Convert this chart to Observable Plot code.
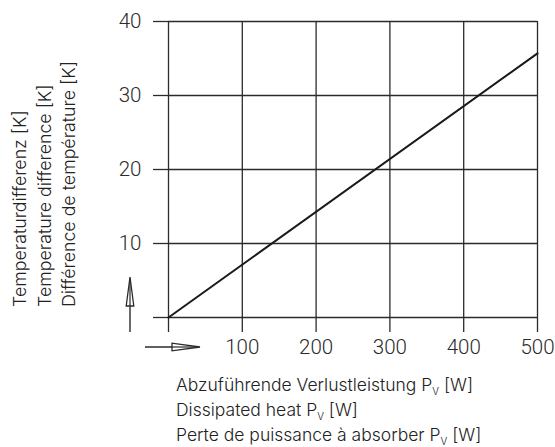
<!DOCTYPE html>
<html>
<head>
<meta charset="utf-8">
<script src="https://cdn.jsdelivr.net/npm/d3@7"></script>
<script src="https://cdn.jsdelivr.net/npm/@observablehq/plot@0.6"></script>
<style>
  html, body { margin: 0; padding: 0; background: #fff; }
</style>
</head>
<body>
<div id="chart"></div>
<script>
// ---- data ----
const powerW = [0, 500];          // Abzuführende Verlustleistung Pv [W]
const deltaK = [0, 35.7];         // Temperaturdifferenz [K]
const xTicks = [0, 100, 200, 300, 400, 500];
const yTicks = [0, 10, 20, 30, 40];
const xTitleLines = [
  ["Abzuführende Verlustleistung P", "V", " [W]"],
  ["Dissipated heat P", "V", " [W]"],
  ["Perte de puissance à absorber P", "V", " [W]"]
];
const yTitleLines = [
  "Temperaturdifferenz [K]",
  "Temperature difference [K]",
  "Différence de température [K]"
];

const line = powerW.map((p, i) => ({p, k: deltaK[i]}));
const ink = "#2b2b2b";
const titleFont = "Inter, 'Liberation Sans', sans-serif";

function decorations(index, scales, values, dims) {
  const x = scales.x, y = scales.y;
  const x0 = x(0), y0 = y(0);
  const g = d3.create("svg:g").attr("text-anchor", "start");
  // up arrow (y direction)
  const ax = x0 - 38;
  g.append("line").attr("x1", ax).attr("x2", ax).attr("y1", y0 + 15).attr("y2", y0 - 39)
    .attr("stroke", ink).attr("stroke-width", 1.4);
  g.append("path")
    .attr("d", `M${ax},${y0 - 40} L${ax - 3.8},${y0 - 11} L${ax + 3.8},${y0 - 11} Z`)
    .attr("fill", "#fff").attr("stroke", ink).attr("stroke-width", 1.3);
  g.append("line").attr("x1", ax).attr("x2", ax).attr("y1", y0 - 11).attr("y2", y0 - 36)
    .attr("stroke", ink).attr("stroke-width", 1.2);
  // right arrow (x direction)
  const ay = y0 + 30;
  g.append("line").attr("x1", x0 - 23).attr("x2", x0 + 31).attr("y1", ay).attr("y2", ay)
    .attr("stroke", ink).attr("stroke-width", 1.4);
  g.append("path")
    .attr("d", `M${x0 + 32},${ay} L${x0 + 4},${ay - 3.8} L${x0 + 4},${ay + 3.8} Z`)
    .attr("fill", "#fff").attr("stroke", ink).attr("stroke-width", 1.3);
  g.append("line").attr("x1", x0 + 4).attr("x2", x0 + 28).attr("y1", ay).attr("y2", ay)
    .attr("stroke", ink).attr("stroke-width", 1.2);

  // x title (below)
  xTitleLines.forEach((parts, i) => {
    const t = g.append("text")
      .attr("text-anchor", "start")
      .attr("x", x0 + 8).attr("y", y0 + 74 + i * 25)
      .attr("font-family", titleFont).attr("font-weight", 300)
      .attr("font-size", 17.5).attr("fill", "#222");
    t.append("tspan").text(parts[0]);
    t.append("tspan").attr("font-size", 10).attr("dy", 4).text(parts[1]);
    t.append("tspan").attr("dy", -4).text(parts[2]);
  });
  // y title (left, rotated)
  yTitleLines.forEach((s, i) => {
    g.append("text")
      .attr("text-anchor", "start")
      .attr("transform", `translate(${26 + i * 24.5},${y0 - 10}) rotate(-90)`)
      .attr("font-family", titleFont).attr("font-weight", 300)
      .attr("font-size", 17.8).attr("fill", "#222")
      .text(s);
  });
  return g.node();
}

const chart = Plot.plot({
  width: 555,
  height: 447,
  marginLeft: 168,
  marginRight: 18,
  marginTop: 21,
  marginBottom: 130,
  style: {fontFamily: "Roboto, 'Liberation Sans', sans-serif", fontWeight: 300, fontSize: "20.5px", color: ink, background: "#fff", overflow: "visible"},
  x: {domain: [0, 500], label: null},
  y: {domain: [0, 40], label: null},
  marks: [
    Plot.gridX(xTicks, {stroke: ink, strokeOpacity: 1, strokeWidth: 1.3}),
    Plot.gridY(yTicks, {stroke: ink, strokeOpacity: 1, strokeWidth: 1.3}),
    Plot.axisX(xTicks, {tickSize: 15, tickPadding: 7, strokeWidth: 1.3, tickFormat: d => d === 0 ? "" : d, label: null}),
    Plot.axisY(yTicks, {tickSize: 15, tickPadding: 12, strokeWidth: 1.3, tickFormat: d => d === 0 ? "" : d, label: null}),
    Plot.line(line, {x: "p", y: "k", stroke: "#1a1a1a", strokeWidth: 2}),
    decorations
  ]
});
document.getElementById("chart").appendChild(chart);
</script>
</body>
</html>
